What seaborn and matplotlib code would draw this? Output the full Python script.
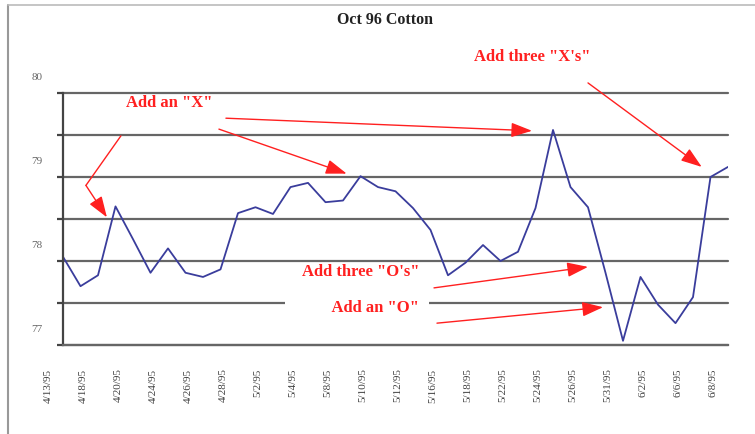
import numpy as np
import pandas as pd
import seaborn as sns
import matplotlib.pyplot as plt
from matplotlib.lines import Line2D
from matplotlib.transforms import ScaledTranslation

# 데이터: Oct 96 Cotton 일별 종가 (4/13/95 ~ 6/8/95, 거래일 기준)
prices = [78.05, 77.70, 77.83, 78.65, 78.26, 77.86, 78.15, 77.86, 77.81, 77.90,
          78.57, 78.64, 78.56, 78.88, 78.93, 78.70, 78.72, 79.01, 78.88, 78.83,
          78.63, 78.37, 77.83, 77.98, 78.19, 78.00, 78.11, 78.63, 79.56, 78.88,
          78.64, 77.86, 77.05, 77.81, 77.48, 77.26, 77.57, 79.00, 79.12]
date_labels = ['4/13/95', '4/18/95', '4/20/95', '4/24/95', '4/26/95', '4/28/95',
               '5/2/95', '5/4/95', '5/8/95', '5/10/95', '5/12/95', '5/16/95',
               '5/18/95', '5/22/95', '5/24/95', '5/26/95', '5/31/95', '6/2/95',
               '6/6/95', '6/8/95']
y_labels = ['77', '', '78', '', '79', '', '80']

df = pd.DataFrame({'day': np.arange(len(prices)), 'price': prices})

sns.set_theme(style='white')
plt.rcParams['font.family'] = ['Liberation Serif', 'DejaVu Serif']

fig = plt.figure(figsize=(7.55, 4.34), dpi=100)
ax = fig.add_axes([63 / 755, 89 / 434, 665 / 755, 252 / 434])

sns.lineplot(data=df, x='day', y='price', ax=ax, color='#3a3d9c', linewidth=1.3)

ax.set_xlim(0, len(prices) - 1)
ax.set_ylim(77, 80)
ax.set_xlabel('')
ax.set_ylabel('')

# y축: 0.5 간격 격자, 라벨은 정수만 (원본처럼 살짝 위로 밀려 있음)
ax.set_yticks(np.arange(77, 80.01, 0.5))
ax.set_yticklabels(y_labels)
ax.grid(True, axis='y', color='#666666', linewidth=1.6)
ax.set_axisbelow(True)
for gl in ax.get_ygridlines():
    gl.set_clip_on(False)
ax.tick_params(axis='y', direction='out', length=4, width=1.6, color='#444444',
               pad=11, labelsize=8, labelcolor='#666666', left=True)
for lab in ax.get_yticklabels():
    lab.set_transform(lab.get_transform() + ScaledTranslation(0, 0.16, fig.dpi_scale_trans))

# x축: 격일 날짜 라벨, 세로 회전
ax.set_xticks(np.arange(0, len(prices), 2))
ax.set_xticklabels(date_labels, rotation=90)
ax.tick_params(axis='x', length=0, pad=17, labelsize=8, labelcolor='#404040')
for lab in ax.get_xticklabels():
    lab.set_transform(lab.get_transform() + ScaledTranslation(-0.15, 0, fig.dpi_scale_trans))

for side in ['top', 'right']:
    ax.spines[side].set_visible(False)
ax.spines['left'].set_color('#444444')
ax.spines['left'].set_linewidth(1.6)
ax.spines['bottom'].set_color('#666666')
ax.spines['bottom'].set_linewidth(1.6)

# 제목
fig.text(385 / 755, 1 - 20 / 434, 'Oct 96 Cotton', ha='center', va='center',
         fontsize=11.5, fontweight='bold', color='#222222')

# 주석 (빨간 글씨 + 화살표)
red = '#ff2020'
txt_kw = dict(ha='center', va='center', fontsize=12, fontweight='bold', color=red,
              annotation_clip=False)
arrow_kw = dict(arrowstyle='-|>,head_length=0.8,head_width=0.28', color=red, lw=1.0,
                mutation_scale=16, shrinkA=0, shrinkB=0)

ax.annotate('Add an "X"', xy=(6.06, 79.88), **txt_kw)
ax.annotate('', xy=(1.31, 78.90), xytext=(3.31, 79.49),
            arrowprops=dict(arrowstyle='-', color=red, lw=1.0, shrinkA=0, shrinkB=0))
ax.annotate('', xy=(2.51, 78.52), xytext=(1.31, 78.90), arrowprops=arrow_kw)
ax.annotate('', xy=(16.21, 79.04), xytext=(8.91, 79.57), arrowprops=arrow_kw)
ax.annotate('', xy=(26.8, 79.55), xytext=(9.31, 79.70), arrowprops=arrow_kw)

ax.annotate('Add three "X\'s"', xy=(26.8, 80.43), **txt_kw)
ax.annotate('', xy=(36.5, 79.12), xytext=(30.0, 80.12), arrowprops=arrow_kw,
            annotation_clip=False)

ax.annotate('Add three "O\'s"', xy=(17.03, 77.87), **txt_kw)
ax.annotate('', xy=(30.0, 77.93), xytext=(21.2, 77.68), arrowprops=arrow_kw)

ax.annotate('           Add an "O"  ', xy=(16.8, 77.44),
            bbox=dict(boxstyle='square,pad=0.1', fc='white', ec='none'), **txt_kw)
ax.annotate('', xy=(30.86, 77.45), xytext=(21.37, 77.26), arrowprops=arrow_kw)

# 바깥 테두리 (왼쪽, 위쪽)
fig.add_artist(Line2D([8 / 755, 8 / 755], [0, 1 - 5 / 434], color='#999999', lw=1.5))
fig.add_artist(Line2D([8 / 755, 1], [1 - 5 / 434, 1 - 5 / 434], color='#bbbbbb', lw=1.2))

fig.savefig('out.png', dpi=100)
